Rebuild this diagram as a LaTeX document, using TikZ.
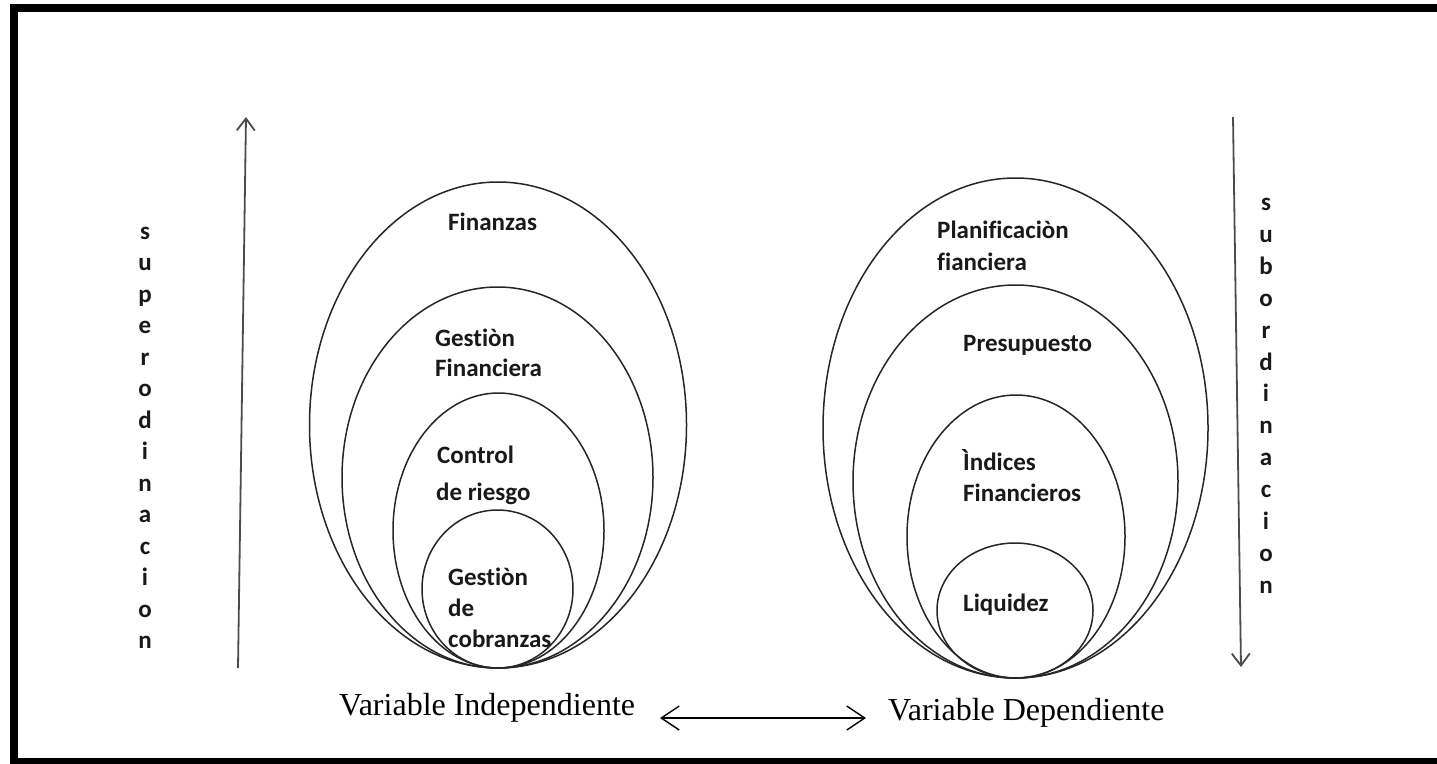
\documentclass[tikz,border=0pt]{standalone}
\usepackage{fontspec}
\setmainfont{Liberation Serif}
\newfontfamily\calibrifont[Ligatures=NoCommon]{Carlito}
\usetikzlibrary{shapes.geometric,arrows.meta}
\tikzset{
  ell/.style={draw=black!85, line width=1.5pt, ellipse, inner sep=0pt, outer sep=0pt},
  lbl/.style={font=\calibrifont\bfseries\fontsize{25}{29}\selectfont, anchor=base west, inner sep=0pt, text=black!90},
  vletter/.style={font=\calibrifont\bfseries\fontsize{25}{29}\selectfont, anchor=base, inner sep=0pt, text=black!90},
  vartext/.style={font=\fontsize{32}{38}\selectfont, anchor=base west, inner sep=0pt},
  hierarrow/.style={draw=black!70, line width=1.8pt, -{Straight Barb[length=12pt,width=18pt,line width=1.8pt]}},
  relarrow/.style={draw=black, line width=1.4pt, {Straight Barb[length=18pt,width=24pt,line width=1.4pt]}-{Straight Barb[length=18pt,width=24pt,line width=1.4pt]}}
}
\begin{document}
\begin{tikzpicture}[x=1pt,y=-1pt]
\useasboundingbox (0,0) rectangle (1437,763);
% frame
\draw[line width=8pt] (14,8) rectangle (1441,762);
% left nest
\node[ell, minimum width=377pt, minimum height=486pt] (L1) at (498,425) {};
\node[ell, minimum width=311pt, minimum height=381pt] (L2) at (497.5,477.5) {};
\node[ell, minimum width=211pt, minimum height=275pt] (L3) at (498.5,530.5) {};
\node[ell, minimum width=151pt, minimum height=158pt] (L4) at (497.5,589) {};
% right nest
\node[ell, minimum width=385pt, minimum height=500pt] (R1) at (1015.5,428) {};
\node[ell, minimum width=325pt, minimum height=393pt] (R2) at (1015.5,481.5) {};
\node[ell, minimum width=218pt, minimum height=283pt] (R3) at (1016,536.5) {};
\node[ell, minimum width=156pt, minimum height=135pt] (R4) at (1015,610.5) {};
% left labels
\node[lbl] (tFin) at (448,230) {Finanzas};
\node[lbl] (tGF1) at (435,346) {Gestiòn};
\node[lbl] (tGF2) at (435,376.5) {Financiera};
\node[lbl] (tCR1) at (437,463) {Control};
\node[lbl] (tCR2) at (436,500) {de riesgo};
\node[lbl] (tGC1) at (448,585) {Gestiòn};
\node[lbl] (tGC2) at (448,616.5) {de};
\node[lbl] (tGC3) at (448,647) {cobranzas};
% right labels
\node[lbl] (tPF1) at (937,238) {Planificaciòn};
\node[lbl] (tPF2) at (937,270) {fianciera};
\node[lbl] (tPre) at (963,351.5) {Presupuesto};
\node[lbl] (tIF1) at (963,470) {Ìndices};
\node[lbl] (tIF2) at (963,501.5) {Financieros};
\node[lbl] (tLiq) at (963,611.5) {Liquidez};
% vertical words
\foreach \ch [count=\i from 0] in {s,u,p,e,r,o,d,i,n,a,c,i,o,n}
  \node[vletter] (sup\i) at (145,{239+31.5*\i}) {\ch};
\foreach \ch [count=\i from 0] in {s,u,b,o,r,d,i,n,a,c,i,o,n}
  \node[vletter] (sub\i) at (1266,{210.5+31.9*\i}) {\ch};
% hierarchy arrows
\coordinate (upS) at (238,668);
\coordinate (upE) at (246,117);
\coordinate (dnS) at (1233,117);
\coordinate (dnE) at (1241,667);
\draw[hierarrow] (upS) -- (upE);
\draw[hierarrow] (dnS) -- (dnE);
% bottom labels
\node[vartext] (vi) at (339,715) {Variable Independiente};
\node[vartext] (vd) at (888,720) {Variable Dependiente};
\coordinate (aL) at (660,718);
\coordinate (aR) at (866,718);
\draw[relarrow] (aL) -- (aR);
\end{tikzpicture}
\end{document}
